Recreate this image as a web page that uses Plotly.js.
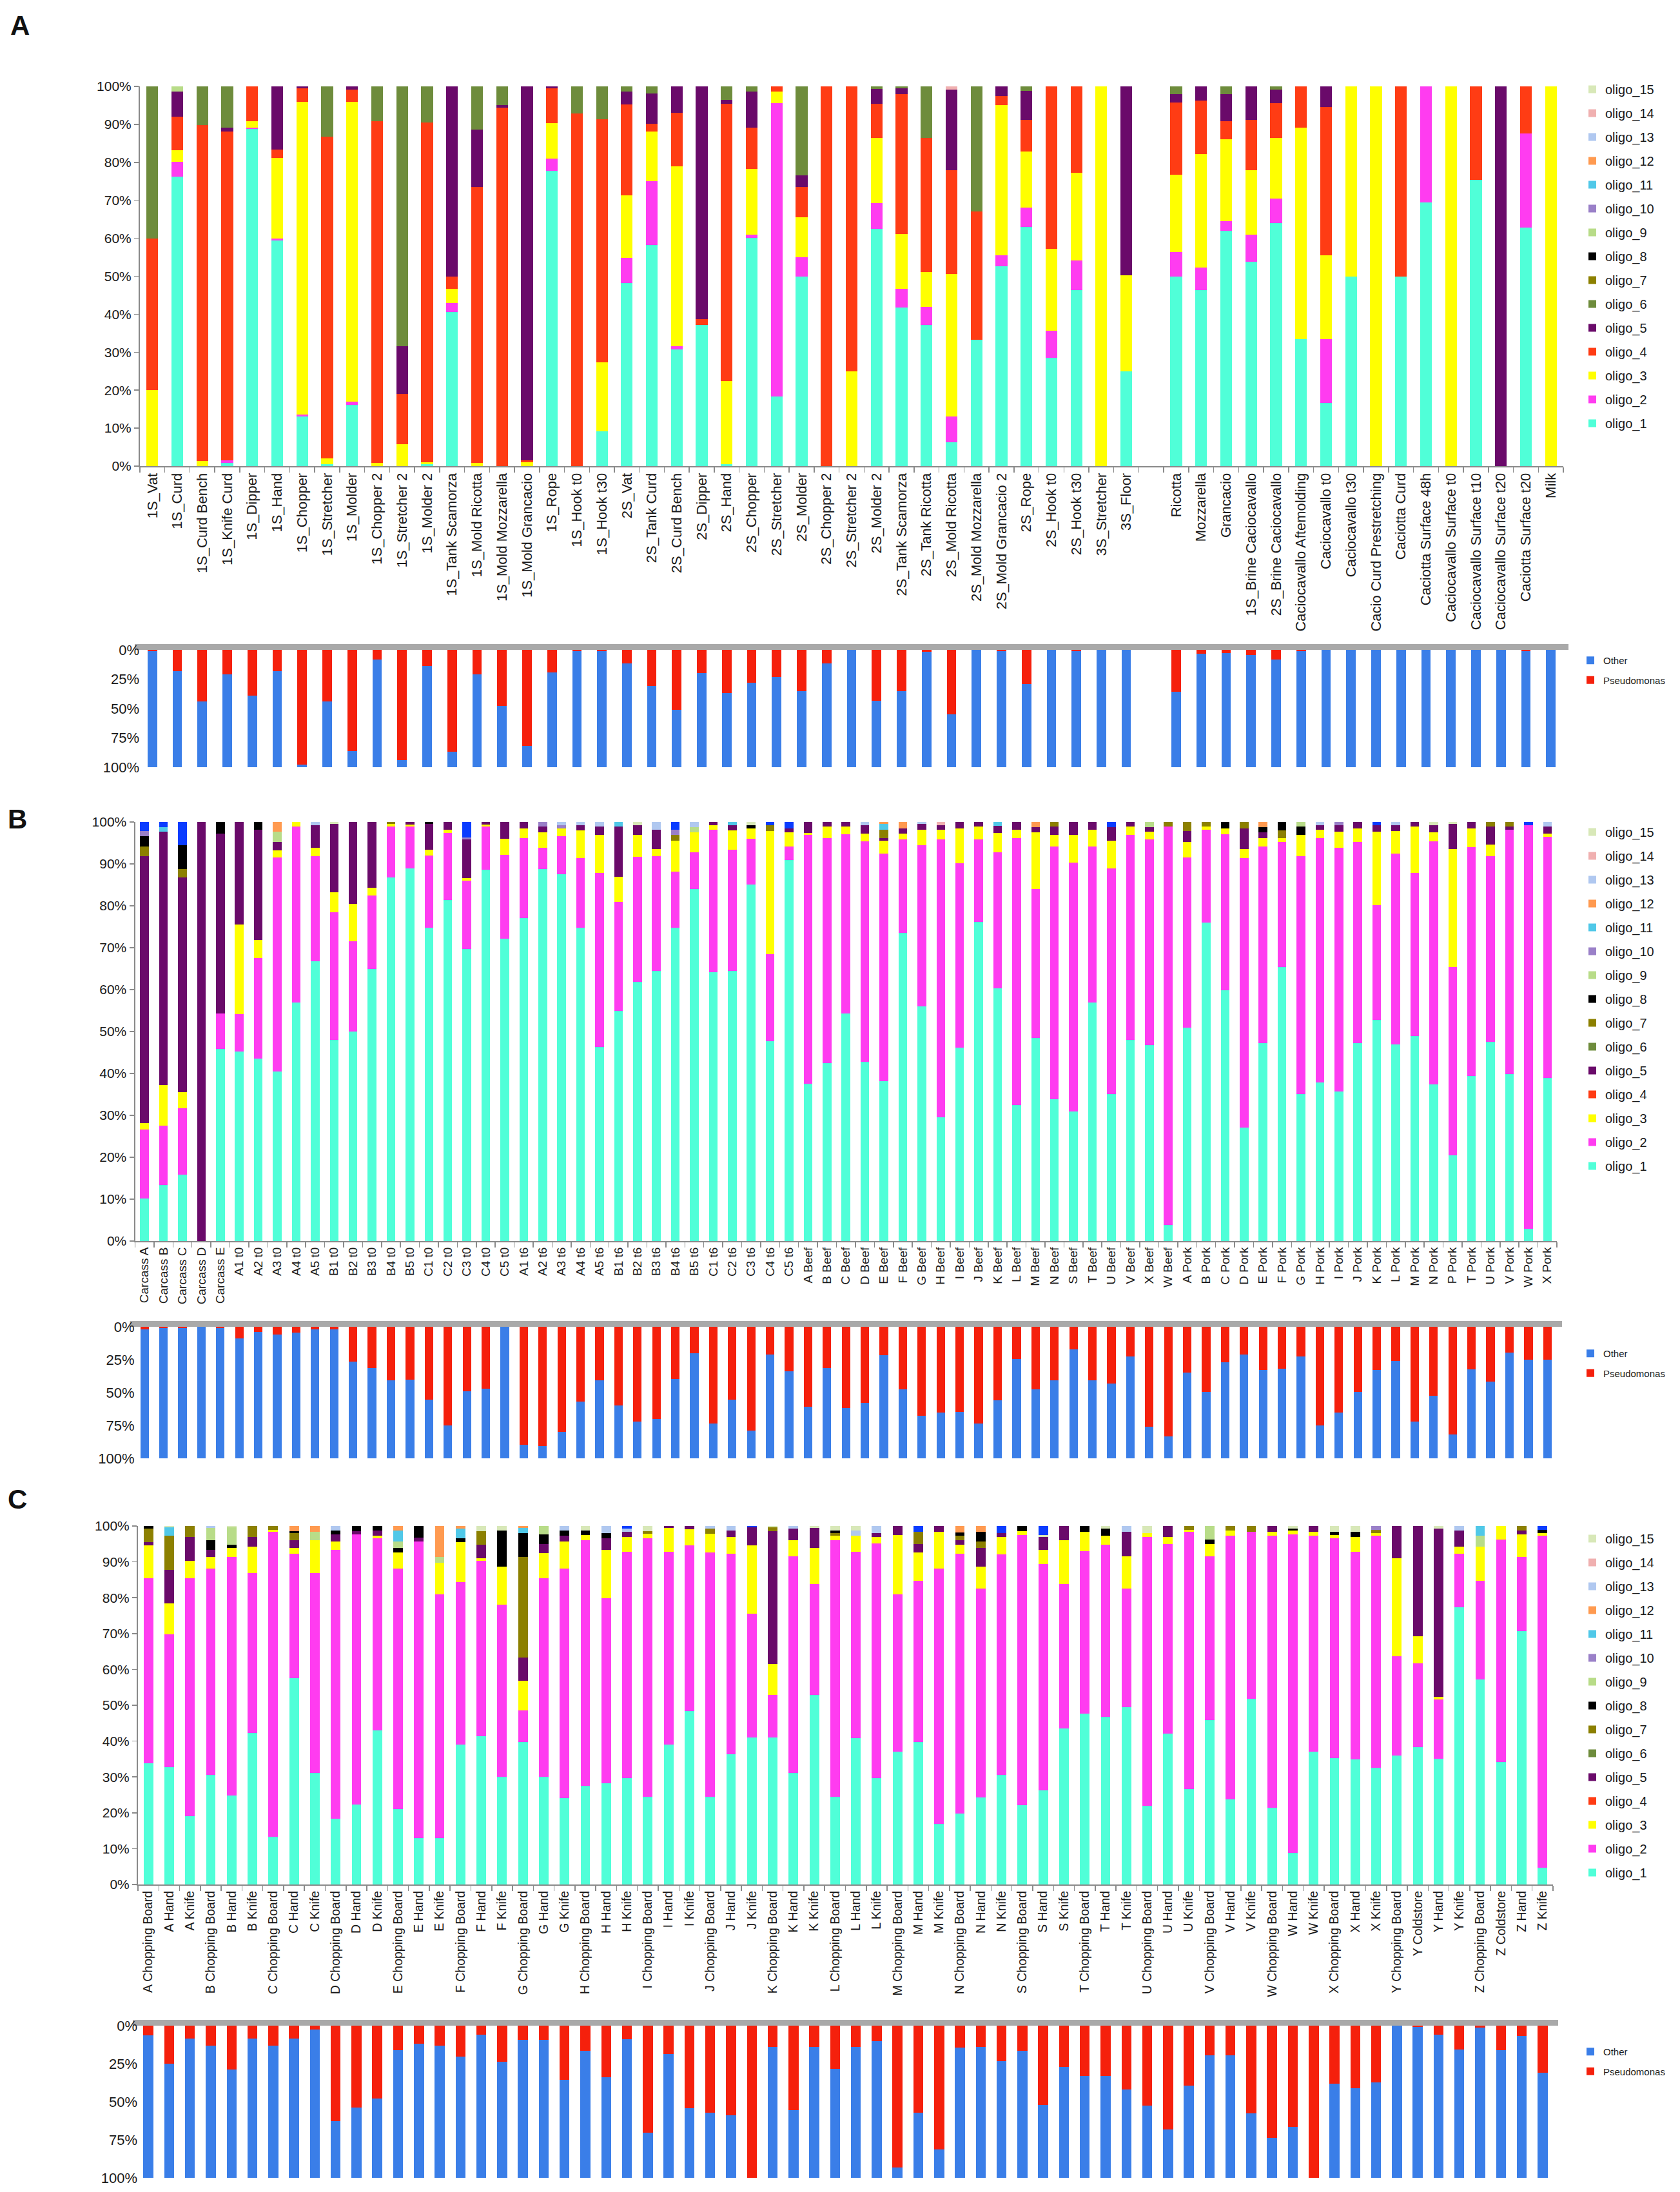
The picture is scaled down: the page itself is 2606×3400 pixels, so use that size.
<!DOCTYPE html>
<html><head><meta charset="utf-8">
<script src="https://cdn.plot.ly/plotly-3.0.1.min.js"></script>
<style>body{margin:0;background:#fff}#chart{width:2606px;height:3400px}</style>
</head><body><div id="chart"></div>
<script>
// ---------------- DATA ----------------
const oligoNames = ['oligo_1','oligo_2','oligo_3','oligo_4','oligo_5','oligo_6','oligo_7','oligo_8','oligo_9','oligo_10','oligo_11','oligo_12','oligo_13','oligo_14','oligo_15'];
const topTicks = [0,10,20,30,40,50,60,70,80,90,100];
const topTickText = ['0%','10%','20%','30%','40%','50%','60%','70%','80%','90%','100%'];
const botTicks = [0,25,50,75,100];
const botTickText = ['0%','25%','50%','75%','100%'];

// Panel A (null = empty slot between groups)
const aLabels = ['1S_Vat','1S_Curd','1S_Curd Bench','1S_Knife Curd','1S_Dipper','1S_Hand','1S_Chopper','1S_Stretcher','1S_Molder','1S_Chopper 2','1S_Stretcher 2','1S_Molder 2','1S_Tank Scamorza','1S_Mold Ricotta','1S_Mold Mozzarella','1S_Mold Grancacio','1S_Rope','1S_Hook t0','1S_Hook t30','2S_Vat','2S_Tank Curd','2S_Curd Bench','2S_Dipper','2S_Hand','2S_Chopper','2S_Stretcher','2S_Molder','2S_Chopper 2','2S_Stretcher 2','2S_Molder 2','2S_Tank Scamorza','2S_Tank Ricotta','2S_Mold Ricotta','2S_Mold Mozzarella','2S_Mold Grancacio 2','2S_Rope','2S_Hook t0','2S_Hook t30','3S_Stretcher','3S_Floor',null,'Ricotta','Mozzarella','Grancacio','1S_Brine Caciocavallo','2S_Brine Caciocavallo','Caciocavallo Aftemolding','Caciocavallo t0','Caciocavallo t30','Cacio Curd Prestretching','Caciotta Curd','Caciotta Surface 48h','Caciocavallo Surface t0','Caciocavallo Surface t10','Caciocavallo Surface t20','Caciotta Surface t20','Milk'];
const aO1 = [0,76.2,0,0.8,88.8,59.5,13,0.5,16.2,0,0,0.5,40.5,0,0,0,77.7,0,9.1,48.3,58.3,30.8,37.2,0.5,60.1,18.4,50,0,0,62.5,41.7,37.2,6.2,33.3,52.7,63,28.6,46.3,0,25,50,46.3,62,53.9,64,33.4,16.6,50,0,50,69.4,0,75.3,0,62.8,0];
const aO2 = [0,4,0,0.7,0.4,0.4,0.5,0,0.7,0,0,0,2.5,0,0,0,3.3,0,0,6.5,16.7,0.8,0,0,0.9,77.2,5,0,0,6.7,5,4.8,6.9,0,2.8,5,7.1,7.8,0,0,6.4,6,2.5,7.1,6.5,0,16.8,0,0,0,30.6,0,0,0,24.8,0];
const aO3 = [20,3,1.3,0,1.6,21.2,82.5,1.6,79.1,0.9,5.8,0.5,3.7,0.8,0,1,9.3,0,18.2,16.5,13.2,47.3,0,21.9,17.3,3.1,10.6,0,25,17.3,14.4,9.1,37.5,0,39.5,14.8,21.5,23.1,100,25.2,20.4,29.9,21.6,16.9,15.9,55.7,22.2,50,100,0,0,100,0,0,0,100];
const aO4 = [40,8.9,88.5,86.7,9.2,2.3,3.5,84.7,3.2,90,13.2,89.5,3.3,72.7,94.4,0.5,9.2,92.9,64,23.9,1.9,14.2,1.5,73,10.8,1.3,7.9,100,75,8.9,36.8,35.3,27.3,33.7,2.5,8.4,42.8,22.8,0,0,19,14.1,4.7,13.2,9.2,10.9,39,0,0,50,0,0,24.7,0,12.4,0];
const aO5 = [0,6.6,0,0.9,0,16.6,0.5,0,0.8,0,12.6,0,50,15.1,0.6,98.5,0.5,0,0,3.5,8,6.9,61.3,1,9.6,0,3.1,0,0,4,1.6,0,21.2,0,2.5,7.6,0,0,0,49.8,2.2,3.7,7.1,8.9,3.6,0,5.4,0,0,0,0,0,0,100,0,0];
const aO6 = [40,0,10.2,10.9,0,0,0,13.2,0,9.1,68.4,9.5,0,11.4,5,0,0,7.1,8.7,1.3,1.9,0,0,3.6,1.3,0,23.4,0,0,0.6,0.5,13.6,0,33,0,1.2,0,0,0,0,2,0,2.1,0,0.8,0,0,0,0,0,0,0,0,0,0,0];
// minor groups: [bar number (1-based), value]
const aO9 = [[2,1.3]];
const aO14 = [[33,0.9]];
const aPseudo = [1,18,44,21,39,18,98,44,86,8,94,13.5,87,21,48,82,19,1,1,11.6,31,51,20,37,28,23,35,11.6,0,43.6,35,1.5,55,0,1,29,0,1,0,0,35.7,3.3,3,4.6,8.3,1,0,0,0,0,0,0,0,0,1,0];

// Panel B
const bLabels = ['Carcass A','Carcass B','Carcass C','Carcass D','Carcass E','A1 t0','A2 t0','A3 t0','A4 t0','A5 t0','B1 t0','B2 t0','B3 t0','B4 t0','B5 t0','C1 t0','C2 t0','C3 t0','C4 t0','C5 t0','A1 t6','A2 t6','A3 t6','A4 t6','A5 t6','B1 t6','B2 t6','B3 t6','B4 t6','B5 t6','C1 t6','C2 t6','C3 t6','C4 t6','C5 t6','A Beef','B Beef','C Beef','D Beef','E Beef','F Beef','G Beef','H Beef','I Beef','J Beef','K Beef','L Beef','M Beef','N Beef','S Beef','T Beef','U Beef','V Beef','X Beef','W Beef','A Pork','B Pork','C Pork','D Pork','E Pork','F Pork','G Pork','H Pork','I Pork','J Pork','K Pork','L Pork','M Pork','N Pork','P Pork','T Pork','U Pork','V Pork','W Pork','X Pork'];
const bO1 = [10.2,13.4,15.8,0,45.9,45.3,43.5,40.4,57,66.7,48,50,64.9,86.7,88.9,74.8,81.4,69.7,88.6,72.2,77.1,88.7,87.6,74.7,46.3,54.9,61.9,64.4,74.7,84,64.2,64.4,85.1,47.7,90.9,37.6,42.4,54.3,42.7,38.1,73.5,56,29.5,46.2,76.1,60.3,32.5,48.5,33.9,30.9,57,35.1,48,46.7,3.8,51,76,59.9,27.1,47.2,65.4,35.1,37.9,35.7,47.2,52.8,47,49,37.4,20.5,39.4,47.5,39.8,3,39];
const bO2 = [16.4,14.2,15.9,0,8.4,8.8,24,51.1,41.9,25.2,30.5,21.5,17.6,12.2,10,17.2,16,16.3,10.3,20,19.1,5.2,9,16.7,41.5,26.1,29.8,27.5,13.4,8.7,34,29,10.9,20.8,3.3,59.3,53.8,42.8,52.7,54.3,22.3,38.4,66.3,43.9,19.8,32.4,63.7,35.5,60.3,59.4,37.2,53.8,48.9,49.2,95.1,40.6,22.2,37.2,64.3,47,29.8,56.8,58.3,58.2,48,27.3,45.4,38.9,58,44.9,54.6,44.4,58.4,96.3,57.4];
const bO3 = [1.6,9.6,3.9,0,0,21.4,4.4,1.7,1.1,2,4.8,9,1.8,0.6,0.5,1.4,0.8,0.6,0.5,3.8,2.3,3.6,1.9,6.6,9.1,5.9,5.2,1.7,7.5,4.8,1,4.6,2.4,29.4,3.3,0.5,2.7,1.9,1.8,3.2,1.4,3.8,2.4,8.4,3,4.7,2,13.5,2.7,6.6,4,6.7,2,1.8,0,3.6,0.8,1.4,2.2,2,1,5,2,3.8,3.3,17.6,5.5,11,2.1,28.2,4.5,2.7,0,0,0.8];
const bO5 = [63.7,60.5,51.1,100,42.9,24.5,26.3,2,0,5.3,16.2,19.5,15.7,0,0.6,6.1,1.8,9.2,0.6,4,1.5,1.5,0,1.2,2,12,2.3,4.6,0,0,0.8,1.2,0,0,1,2.6,1.1,1,2.1,0.5,1.3,1.3,1.1,1.5,1.1,1.7,1.8,1.3,2,3.1,1.8,3.2,1.1,1,0,2.7,0,0,4.9,1.3,0,0,1,1.5,1.5,1.5,1.3,1.1,1.7,5.9,1.5,4.3,0.8,0,1.7];
const bO7 = [[1,2.3],[3,2.1],[14,0.5],[29,1.3],[34,1.3],[40,2.1],[49,1.1],[55,1.1],[56,2.1],[57,1],[59,1.5],[61,1.8],[72,1.1],[73,1]];
const bO8 = [[1,2.4],[3,5.6],[5,2.8],[7,1.8],[16,0.5],[33,0.9],[58,1.5],[60,1.2],[61,2],[62,2.1]];
const bO9 = [[8,2.5],[30,1.3],[54,1.3],[62,1]];
const bO10 = [[1,1.3],[18,0.5],[22,1],[23,0.8],[29,1.3],[64,0.8]];
const bO11 = [[2,1],[26,1.1],[32,0.8],[40,1.3],[46,0.9]];
const bO12 = [[8,2.3],[40,0.5],[41,1.5],[48,1.2],[60,1.3]];
const bO13 = [[10,0.8],[23,0.7],[24,0.8],[25,1.1],[28,1.8],[30,1.2],[39,0.7],[42,0.5],[63,0.8],[67,0.8],[75,1.1]];
const bO14 = [[43,0.7]];
const bO15 = [[11,0.5],[27,0.8],[33,0.7],[69,0.8],[70,0.5]];
const bUnlisted = [[1,2.1],[2,1.3],[3,5.6],[18,3.7],[29,1.8],[34,0.8],[35,1.5],[52,1.2],[66,0.8],[74,0.7]];
const bPseudo = [2,1,1,0,1,8.6,3.7,5.7,4.5,2,2,26.7,31.6,40.9,40,55.5,74.9,49,47,0,89.5,90.6,79.8,57.1,40.9,59.9,72,70,39.6,19.9,73.6,55.5,78.8,21,34,60.7,31.6,62,57.8,21.8,47.7,67.5,65.2,64.7,73.3,56.1,24.3,47.4,40.5,17.3,40.5,42.9,22.7,76,83.3,34.8,49.7,27,21,32.8,31.9,22.7,75.2,65.2,49.7,32.8,25.9,72,52.6,82,32.4,41.6,19.4,24.8,24.8];

// Panel C
const cLabels = ['A Chopping Board','A Hand','A Knife','B Chopping Board','B Hand','B Knife','C Chopping Board','C Hand','C Knife','D Chopping Board','D Hand','D Knife','E Chopping Board','E Hand','E Knife','F Chopping Board','F Hand','F Knife','G Chopping Board','G Hand','G Knife','H Chopping Board','H Hand','H Knife','I Chopping Board','I Hand','I Knife','J Chopping Board','J Hand','J Knife','K Chopping Board','K Hand','K Knife','L Chopping Board','L Hand','L Knife','M Chopping Board','M Hand','M Knife','N Chopping Board','N Hand','N Knife','S Chopping Board','S Hand','S Knife','T Chopping Board','T Hand','T Knife','U Chopping Board','U Hand','U Knife','V Chopping Board','V Hand','V Knife','W Chopping Board','W Hand','W Knife','X Chopping Board','X Hand','X Knife','Y Chopping Board','Y Coldstore','Y Hand','Y Knife','Z Chopping Board','Z Coldstore','Z Hand','Z Knife'];
const cO1 = [33.9,32.7,19.1,30.6,24.9,42.3,13.4,57.6,31.1,18.4,22.3,43,21,13,13,39.1,41.4,30,39.7,30,24.1,27.6,28.2,29.6,24.4,39.1,48.4,24.4,36.3,41,41,31.1,52.9,24.4,40.9,29.6,37.1,39.7,16.9,19.8,24.3,30.6,22.2,26.3,43.6,47.6,46.8,49.4,22,42,26.6,45.9,23.7,51.8,21.4,8.8,37.1,35.2,34.9,32.5,36,38.4,35,77.4,57.2,34.2,70.6,4.7];
const cO2 = [51.5,37.1,66.3,57.5,66.5,44.5,85,34.6,55.7,75,75.4,53.5,67.2,82.7,67.9,45.2,48.9,48,8.9,55.4,64,68.5,51.6,63.2,72.1,53.7,46.2,68.2,55.9,34.6,11.8,60.5,30.9,71.6,51.9,65.6,43.8,45.1,71.2,72.4,58.2,61.5,75.3,63,40.2,45.4,47.9,33.1,74.9,52.9,71.7,45.7,73.6,46.6,75.9,88.9,60.2,61.3,57.9,64.8,27.6,23.3,16.6,14.8,27.6,62.1,20.8,92.6];
const cO3 = [9.2,8.6,4.9,3.3,2.4,7.4,0.6,1.6,9.2,2.3,0,0.8,4.4,0,8.8,11.2,0.7,10.7,8.2,7,7.6,1.4,13.6,4.1,1.3,6.6,4.5,5.2,4.7,19,8.7,4.4,10,1.3,4.5,1.8,16.6,7.8,10.3,2.5,6.2,4.8,1.1,4.1,12.2,5.3,2.6,9.1,1.2,2,0.7,3.3,1.5,0,1,1,1,1,4.1,0.8,27.4,7.6,0.8,2,9.4,3.7,6.3,0.8];
const cO5 = [0.9,9.3,6.7,2,0,2.8,0,2.2,0,2,0.9,1.4,0,1,0,0,3.7,0,6.6,2.5,1.6,0,3.1,1.4,0,0.6,0.9,0,1.9,5,37.1,3.2,5.6,0,0,1,2.5,2.3,1.6,1.4,5.1,1.1,0,3.5,4,0,0,6.7,0,3.1,0,0,0,0,1.7,0,1.7,0,0,0,9,30.7,46.8,4.6,0,0,1,0];
const cO7 = [[1,3.7],[2,9.6],[3,3],[6,3],[7,1],[8,2],[17,3.9],[19,28],[25,0.8],[28,1.4],[31,1],[34,0.8],[38,3.5],[40,1.2],[41,1.9],[51,1],[53,1.2],[54,1.6],[60,0.9],[67,1.3]];
const cO8 = [[1,0.8],[4,2.7],[5,0.9],[8,0.6],[10,1.1],[11,1.4],[12,1.3],[13,1.2],[14,3.3],[16,1],[18,10.1],[19,6.6],[20,2.8],[21,1.5],[22,1.3],[23,1.5],[34,0.6],[40,0.9],[41,2.6],[43,1.4],[46,1.7],[47,1.9],[52,1.3],[56,0.6],[58,0.8],[59,1.5],[68,0.8]];
const cO9 = [[4,3.3],[5,4.9],[9,2.4],[13,1.9],[15,1.7],[20,2.3],[52,3.8],[65,3.1]];
const cO10 = [[60,1]];
const cO11 = [[2,2.3],[13,3.1],[16,2.7],[19,1.4],[65,2.7]];
const cO12 = [[8,1.4],[9,1.6],[13,1.2],[15,8.6],[16,0.8],[19,0.6],[40,1.8],[41,1.7]];
const cO13 = [[4,0.6],[10,1.2],[21,1.2],[23,2],[24,0.9],[28,0.8],[29,1.2],[32,0.8],[35,1.5],[36,2],[48,1.7],[64,1.2]];
const cO15 = [[2,0.4],[5,0.4],[17,1.4],[18,1.2],[22,1.2],[25,1.4],[31,0.4],[33,0.6],[34,1.3],[35,1.2],[44,0.5],[47,0.8],[49,1.9],[56,0.7],[58,1.7],[59,1.6],[63,0.8]];
const cUnlisted = [[24,0.8],[30,0.4],[38,1.6],[42,2],[44,2.6],[68,1.1]];
const cPseudo = [6.4,25,8.5,13.1,28.8,8.5,13.2,8.5,2.7,62.6,53.6,48,16.2,11.8,13.1,20.3,5.8,23.9,9.5,9.5,35.8,16.5,34.1,9.1,70.3,18.5,54.1,57.4,58.8,100,13.9,55.4,13.9,28.4,13.9,10.1,93.2,57.4,81.5,14.2,13.9,23.4,16.6,52.3,27,33.1,33.1,41.9,52.7,68.2,39.2,19.6,19.6,57.7,73.9,66.6,100,38.2,41.2,37.4,0,1,6.1,15.5,1.4,16.2,6.8,31.1];

// ---------------- STYLE ----------------
const W = 2606, H = 3400;
const FONT = 'Liberation Sans, Arial, sans-serif';
const COLORS = ['#50ffd8','#ff3cf0','#ffff00','#ff3c14','#6a0a6a','#6e8c3c','#8c8000','#000000','#b8dc88','#9a80c8','#50c8e8','#ff9a50','#b0c8f0','#f0b0b0','#d8e8b8'];
const UNLISTED_COLOR = '#0a3cff';
const RED = '#f5200c', BLUE = '#3a7ee8';
const px = p => p / W;
const py = p => 1 - p / H;

function full(n, pairs) { const a = new Array(n).fill(0); pairs.forEach(([i, v]) => { a[i - 1] = v; }); return a; }
function positions(labels) { const xs = [], ts = []; labels.forEach((l, i) => { if (l !== null) { xs.push(i); ts.push(l); } }); return {xs, ts}; }

const traces = [];
function addTop(series, unlisted, xs, xa, ya, leg, w) {
  series.forEach((vals, k) => {
    traces.push({type:'bar', x:xs, y:vals, name:oligoNames[k], xaxis:xa, yaxis:ya, legend:leg,
      legendgroup:leg+'_'+k, legendrank:100 - k, width:w, marker:{color:COLORS[k], line:{width:0}}, hoverinfo:'skip'});
  });
  traces.push({type:'bar', x:xs, y:unlisted, name:'other oligotypes', showlegend:false, xaxis:xa, yaxis:ya,
    width:w, marker:{color:UNLISTED_COLOR, line:{width:0}}, hoverinfo:'skip'});
}
function addBottom(pseudo, xs, xa, ya, leg, w) {
  traces.push({type:'bar', x:xs, y:pseudo, name:'Pseudomonas', xaxis:xa, yaxis:ya, legend:leg, legendgroup:leg+'_p', legendrank:2,
    width:w, marker:{color:RED, line:{width:0}}, hoverinfo:'skip'});
  traces.push({type:'bar', x:xs, y:pseudo.map(p => 100 - p), name:'Other', xaxis:xa, yaxis:ya, legend:leg, legendgroup:leg+'_o', legendrank:1,
    width:w, marker:{color:BLUE, line:{width:0}}, hoverinfo:'skip'});
}

// Panel A
const pa = positions(aLabels); const nA = aO1.length;
addTop([aO1,aO2,aO3,aO4,aO5,aO6,full(nA,[]),full(nA,[]),full(nA,aO9),full(nA,[]),full(nA,[]),full(nA,[]),full(nA,[]),full(nA,aO14),full(nA,[])],
  full(nA,[]), pa.xs, 'x', 'y', 'legend', 0.47);
addBottom(aPseudo, pa.xs, 'x2', 'y2', 'legend2', 0.38);
// Panel B
const pb = positions(bLabels); const nB = bO1.length;
addTop([bO1,bO2,bO3,full(nB,[]),bO5,full(nB,[]),full(nB,bO7),full(nB,bO8),full(nB,bO9),full(nB,bO10),full(nB,bO11),full(nB,bO12),full(nB,bO13),full(nB,bO14),full(nB,bO15)],
  full(nB,bUnlisted), pb.xs, 'x3', 'y3', 'legend3', 0.46);
addBottom(bPseudo, pb.xs, 'x4', 'y4', 'legend4', 0.45);
// Panel C
const pc = positions(cLabels); const nC = cO1.length;
addTop([cO1,cO2,cO3,full(nC,[]),cO5,full(nC,[]),full(nC,cO7),full(nC,cO8),full(nC,cO9),full(nC,cO10),full(nC,cO11),full(nC,cO12),full(nC,cO13),full(nC,[]),full(nC,cO15)],
  full(nC,cUnlisted), pc.xs, 'x5', 'y5', 'legend5', 0.46);
addBottom(cPseudo, pc.xs, 'x6', 'y6', 'legend6', 0.48);

// ---------------- LAYOUT ----------------
const AXC = '#8a8a8a';
function topX(l, r, nSlots, p, fs, anchor) {
  return {domain:[px(l), px(r)], range:[-0.5, nSlots - 0.5], anchor:anchor, tickmode:'array', tickvals:p.xs, ticktext:p.ts,
    tickangle:-90, tickfont:{size:fs, color:'#1a1a1a'}, ticks:'', showline:true, linecolor:AXC, linewidth:2,
    showgrid:false, zeroline:false, fixedrange:true,
    minor:{ticks:'outside', tickmode:'linear', tick0:-0.5, dtick:1, ticklen:8, tickcolor:AXC, tickwidth:1.5, showgrid:false}};
}
function topY(t, b, anchor) {
  return {domain:[py(b), py(t)], range:[0, 100], anchor:anchor, tickmode:'array', tickvals:topTicks, ticktext:topTickText,
    tickfont:{size:21, color:'#1a1a1a'}, ticks:'outside', ticklen:7, tickcolor:AXC, tickwidth:1.5,
    showline:true, linecolor:AXC, linewidth:2, showgrid:false, zeroline:false, fixedrange:true};
}
function botX(l, r, nSlots, anchor) {
  return {domain:[px(l), px(r)], range:[-0.5, nSlots - 0.5], anchor:anchor, showticklabels:false, ticks:'',
    showline:false, showgrid:false, zeroline:false, fixedrange:true};
}
function botY(t, b, anchor) {
  return {domain:[py(b), py(t)], range:[100, 0], anchor:anchor, tickmode:'array', tickvals:botTicks, ticktext:botTickText,
    tickfont:{size:22, color:'#1a1a1a'}, ticks:'', showline:false, showgrid:false, zeroline:false, fixedrange:true};
}
function topLegend(x, yTop) {
  return {x:px(x), y:py(yTop), xanchor:'left', yanchor:'top', traceorder:'grouped', tracegroupgap:8,
    font:{size:20, color:'#1a1a1a', family:FONT}, bgcolor:'rgba(0,0,0,0)', borderwidth:0, itemwidth:30};
}
function botLegend(x, yTop) {
  return {x:px(x), y:py(yTop), xanchor:'left', yanchor:'top', traceorder:'grouped', tracegroupgap:8,
    font:{size:15, color:'#1a1a1a', family:FONT}, bgcolor:'rgba(0,0,0,0)', borderwidth:0, itemwidth:30};
}
function band(l, r, yTop) {
  return {type:'rect', xref:'paper', yref:'paper', x0:px(l), x1:px(r), y0:py(yTop), y1:py(yTop - 9),
    fillcolor:'#a9a9a9', line:{width:0}, layer:'below'};
}
function letter(t, x, y) {
  return {text:'<b>'+t+'</b>', xref:'paper', yref:'paper', x:px(x), y:py(y), xanchor:'center', yanchor:'middle',
    showarrow:false, font:{size:42, color:'#111', family:FONT}};
}

const aL = 217, aR = 2425, bL = 209.5, bR = 2415, cL = 214, cR = 2409;
const layout = {
  width:W, height:H, margin:{l:0, r:0, t:0, b:0}, paper_bgcolor:'#ffffff', plot_bgcolor:'rgba(0,0,0,0)',
  barmode:'stack', showlegend:true, font:{family:FONT, size:20, color:'#1a1a1a'},
  xaxis: topX(aL, aR, aLabels.length, pa, 22, 'y'),   yaxis: topY(134, 723, 'x'),
  xaxis2: botX(aL, aR, aLabels.length, 'y2'),         yaxis2: botY(1008, 1190, 'x2'),
  xaxis3: topX(bL, bR, bLabels.length, pb, 19, 'y3'), yaxis3: topY(1275, 1925, 'x3'),
  xaxis4: botX(bL, bR, bLabels.length, 'y4'),         yaxis4: botY(2058, 2262, 'x4'),
  xaxis5: topX(cL, cR, cLabels.length, pc, 19.5, 'y5'), yaxis5: topY(2367, 2923, 'x5'),
  xaxis6: botX(cL, cR, cLabels.length, 'y6'),         yaxis6: botY(3142, 3378, 'x6'),
  legend: topLegend(2450, 119), legend2: botLegend(2447, 1008),
  legend3: topLegend(2450, 1271), legend4: botLegend(2447, 2083),
  legend5: topLegend(2450, 2367), legend6: botLegend(2447, 3166),
  shapes:[band(aL - 8, aR + 8, 1008), band(bL - 8, bR + 8, 2058), band(cL - 8, cR + 8, 3142)],
  annotations:[letter('A', 31, 40), letter('B', 27, 1270), letter('C', 27, 2325)]
};

Plotly.newPlot('chart', traces, layout, {staticPlot:true, displayModeBar:false});
</script></body></html>
